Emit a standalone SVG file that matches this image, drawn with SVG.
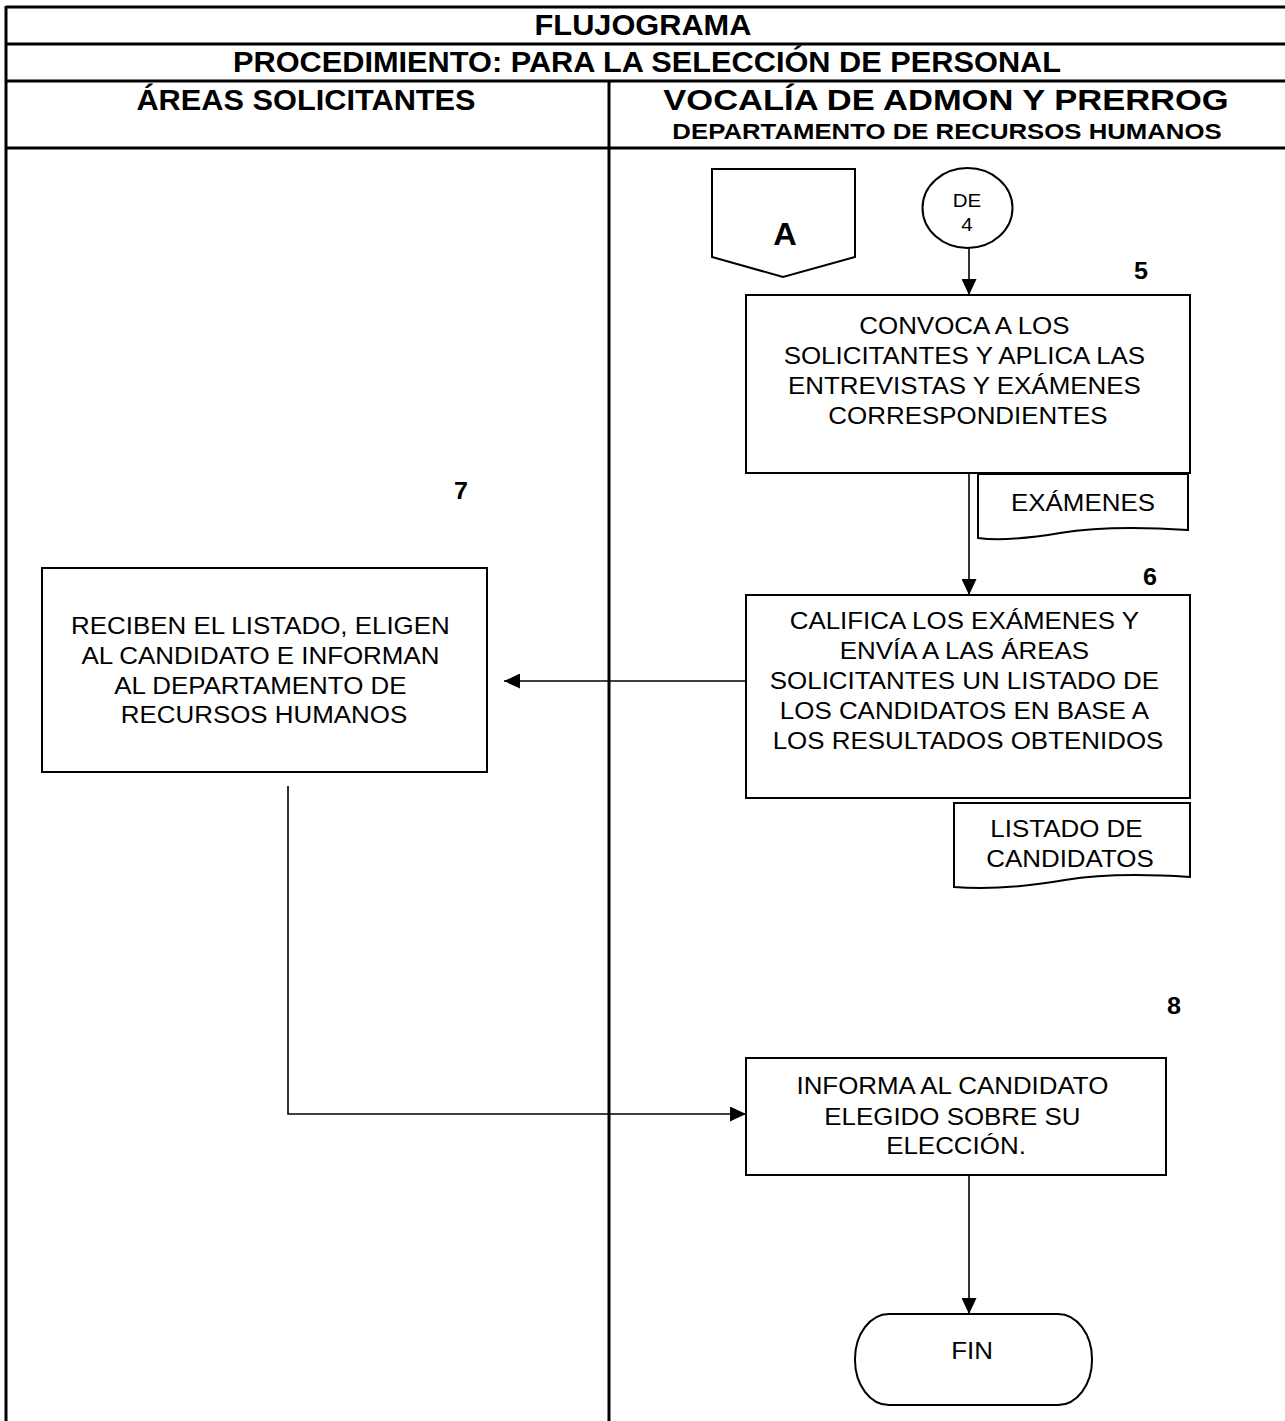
<svg xmlns="http://www.w3.org/2000/svg" width="1285" height="1421" viewBox="0 0 1285 1421">
  <style>
    .grid { stroke: #000; stroke-width: 3; fill: none; }
    .shape { fill: #fff; stroke: #000; stroke-width: 2; }
    .hdr { font-family: "Liberation Sans", Arial, sans-serif; font-weight: bold; font-size: 29px; text-anchor: middle; fill: #000; }
    .sub { font-family: "Liberation Sans", Arial, sans-serif; font-weight: bold; font-size: 23px; text-anchor: middle; fill: #000; }
    .txt { font-family: "Liberation Sans", Arial, sans-serif; font-size: 24px; text-anchor: middle; fill: #000; }
    .small { font-family: "Liberation Sans", Arial, sans-serif; font-size: 19px; text-anchor: middle; fill: #000; }
    .num { font-family: "Liberation Sans", Arial, sans-serif; font-weight: bold; font-size: 24px; text-anchor: middle; fill: #000; }
    .big { font-family: "Liberation Sans", Arial, sans-serif; font-weight: bold; font-size: 31px; text-anchor: middle; fill: #000; }
    .link { stroke: #000; stroke-width: 1.6; fill: none; }
  </style>
  <defs>
    <marker id="arrow" markerUnits="userSpaceOnUse" markerWidth="16" markerHeight="15" refX="16" refY="7.5" orient="auto">
      <path d="M0,0 L16,7.5 L0,15 Z" fill="#000"/>
    </marker>
  </defs>

  <rect width="1285" height="1421" fill="#fff"/>

  <!-- table frame and lanes -->
  <g id="table">
    <line class="grid" x1="6" y1="7" x2="1285" y2="7"/>
    <line class="grid" x1="6" y1="44" x2="1285" y2="44"/>
    <line class="grid" x1="6" y1="81" x2="1285" y2="81"/>
    <line class="grid" x1="6" y1="148" x2="1285" y2="148"/>
    <line class="grid" x1="6" y1="6" x2="6" y2="1421"/>
    <line class="grid" x1="609" y1="81" x2="609" y2="1421"/>
    <text class="hdr" transform="translate(643 35) scale(1.06 1)">FLUJOGRAMA</text>
    <text class="hdr" transform="translate(647 72) scale(1.06 1)">PROCEDIMIENTO: PARA LA SELECCIÓN DE PERSONAL</text>
    <text class="hdr" transform="translate(306 110) scale(1.06 1)">ÁREAS SOLICITANTES</text>
    <text class="hdr" transform="translate(946 110) scale(1.19 1)">VOCALÍA DE ADMON Y PRERROG</text>
    <text class="sub" transform="translate(947 139) scale(1.12 1)">DEPARTAMENTO DE RECURSOS HUMANOS</text>
  </g>

  <!-- connectors -->
  <g id="connectors">
    <line class="link" x1="969" y1="248" x2="969" y2="295" marker-end="url(#arrow)"/>
    <line class="link" x1="969" y1="473" x2="969" y2="595" marker-end="url(#arrow)"/>
    <line class="link" x1="746" y1="681" x2="504" y2="681" marker-end="url(#arrow)"/>
    <polyline class="link" points="288,786 288,1114 746,1114" marker-end="url(#arrow)"/>
    <line class="link" x1="969" y1="1175" x2="969" y2="1314" marker-end="url(#arrow)"/>
  </g>

  <!-- off-page connector A -->
  <g id="node-a">
    <path class="shape" d="M712,169 L855,169 L855,257 L783,277 L712,257 Z"/>
    <text class="big" transform="translate(785 245) scale(1.05 1)">A</text>
  </g>

  <!-- on-page connector from step 4 -->
  <g id="node-de4">
    <ellipse class="shape" cx="967.5" cy="208" rx="45" ry="40"/>
    <text class="small" transform="translate(967 207) scale(1.08 1)">DE</text>
    <text class="small" transform="translate(967 231) scale(1.08 1)">4</text>
  </g>

  <!-- step 5 -->
  <g id="step-5">
    <rect class="shape" x="746" y="295" width="444" height="178"/>
    <text class="txt" transform="translate(968 0) scale(1.08 1)">
      <tspan x="0" y="334">CONVOCA A LOS</tspan>
      <tspan x="0" y="364">SOLICITANTES Y APLICA LAS</tspan>
      <tspan x="0" y="394">ENTREVISTAS Y EXÁMENES</tspan>
      <tspan x="0" y="424">CORRESPONDIENTES</tspan>
    </text>
    <text class="num" transform="translate(1141 279) scale(1.05 1)">5</text>
  </g>

  <!-- document: exams -->
  <g id="doc-examenes">
    <path class="shape" d="M978,474 L1188,474 L1188,530 C1130,526 1090,528 1060,533 C1030,538 1000,541 978,538 Z"/>
    <text class="txt" transform="translate(1083 511) scale(1.08 1)">EXÁMENES</text>
  </g>

  <!-- step 6 -->
  <g id="step-6">
    <rect class="shape" x="746" y="595" width="444" height="203"/>
    <text class="txt" transform="translate(968 0) scale(1.08 1)">
      <tspan x="0" y="629">CALIFICA LOS EXÁMENES Y</tspan>
      <tspan x="0" y="659">ENVÍA A LAS ÁREAS</tspan>
      <tspan x="0" y="689">SOLICITANTES UN LISTADO DE</tspan>
      <tspan x="0" y="719">LOS CANDIDATOS EN BASE A</tspan>
      <tspan x="0" y="749">LOS RESULTADOS OBTENIDOS</tspan>
    </text>
    <text class="num" transform="translate(1150 585) scale(1.05 1)">6</text>
  </g>

  <!-- document: candidate list -->
  <g id="doc-listado">
    <path class="shape" d="M954,803 L1190,803 L1190,877 C1130,873 1095,875 1065,880 C1030,886 990,890 954,887 Z"/>
    <text class="txt" transform="translate(1070 0) scale(1.08 1)">
      <tspan x="0" y="837">LISTADO DE</tspan>
      <tspan x="0" y="867">CANDIDATOS</tspan>
    </text>
  </g>

  <!-- step 7 -->
  <g id="step-7">
    <rect class="shape" x="42" y="568" width="445" height="204"/>
    <text class="txt" transform="translate(264 0) scale(1.08 1)">
      <tspan x="0" y="634">RECIBEN EL LISTADO, ELIGEN</tspan>
      <tspan x="0" y="664">AL CANDIDATO E INFORMAN</tspan>
      <tspan x="0" y="694">AL DEPARTAMENTO DE</tspan>
      <tspan x="0" y="723">RECURSOS HUMANOS</tspan>
    </text>
    <text class="num" transform="translate(461 499) scale(1.05 1)">7</text>
  </g>

  <!-- step 8 -->
  <g id="step-8">
    <rect class="shape" x="746" y="1058" width="420" height="117"/>
    <text class="txt" transform="translate(956 0) scale(1.08 1)">
      <tspan x="0" y="1094">INFORMA AL CANDIDATO</tspan>
      <tspan x="0" y="1125">ELEGIDO SOBRE SU</tspan>
      <tspan x="0" y="1154">ELECCIÓN.</tspan>
    </text>
    <text class="num" transform="translate(1174 1014) scale(1.05 1)">8</text>
  </g>

  <!-- terminator -->
  <g id="node-fin">
    <rect class="shape" x="855" y="1314" width="237" height="91" rx="34" ry="45"/>
    <text class="txt" transform="translate(972 1359) scale(1.08 1)">FIN</text>
  </g>
</svg>
